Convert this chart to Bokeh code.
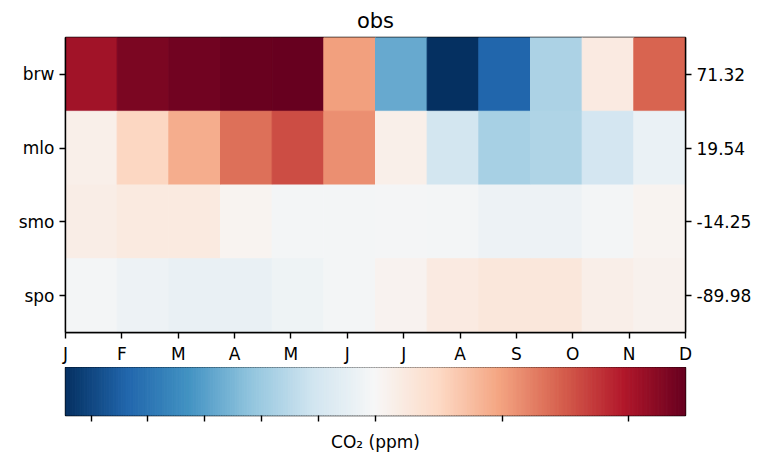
import numpy as np
from bokeh.plotting import figure
from bokeh.layouts import column
from bokeh.models import Range1d, FixedTicker, LinearAxis, CustomJSTickFormatter, ColumnDataSource
from bokeh.embed import file_html
from bokeh.resources import INLINE

# ---------------- data ----------------
stations = ["brw", "mlo", "smo", "spo"]
latitudes = [71.32, 19.54, -14.25, -89.98]
months = [1, 2, 3, 4, 5, 6, 7, 8, 9, 10, 11, 12]
month_labels = ["J", "F", "M", "A", "M", "J", "J", "A", "S", "O", "N", "D"]

brw = [4.14, 4.64, 4.77, 4.87, 4.95, 2.03, -5.56, -10.9, -8.7, -3.47, 0.45, 2.89]
mlo = [0.29, 1.05, 1.81, 2.71, 3.2, 2.27, 0.29, -2.07, -3.63, -3.36, -2.0, -0.74]
smo = [0.34, 0.47, 0.47, 0.15, -0.24, -0.24, -0.2, -0.24, -0.57, -0.57, -0.24, 0.15]
spo = [-0.24, -0.57, -0.8, -0.8, -0.52, -0.24, 0.17, 0.45, 0.57, 0.57, 0.3, 0.2]
values = [brw, mlo, smo, spo]

vmin, vcenter, vmax = -10.9, 0.0, 4.9
cbar_ticks = [-10, -8, -6, -4, -2, 0, 2, 4]

RDBU_R = ["#053061", "#2166ac", "#4393c3", "#92c5de", "#d1e5f0", "#f7f7f7",
          "#fddbc7", "#f4a582", "#d6604d", "#b2182b", "#67001f"]
FONT = "DejaVu Sans"
TICK_FS = "17px"


def hex2rgb(h):
    return [int(h[i:i + 2], 16) for i in (1, 3, 5)]


ANCH = np.array([hex2rgb(c) for c in RDBU_R], dtype=float)


def cmap(f):
    f = min(max(f, 0.0), 1.0)
    pos = f * (len(ANCH) - 1)
    i = min(int(pos), len(ANCH) - 2)
    t = pos - i
    rgb = ANCH[i] * (1 - t) + ANCH[i + 1] * t
    return "#%02x%02x%02x" % tuple(int(round(c)) for c in rgb)


def norm(v):
    if v < vcenter:
        f = 0.5 * (1 - (v - vcenter) / (vmin - vcenter))
    else:
        f = 0.5 + 0.5 * (v - vcenter) / (vmax - vcenter)
    return min(max(f, 0.0), 1.0)


# ---------------- heatmap ----------------
n = len(months)
span = months[-1] - months[0]
left, right, bottom, top, colors = [], [], [], [], []
for r, row in enumerate(values):
    for i, v in enumerate(row):
        left.append(months[0] + i * span / n)
        right.append(months[0] + (i + 1) * span / n)
        bottom.append(len(stations) - 1 - r)
        top.append(len(stations) - r)
        colors.append(cmap(norm(v)))
src = ColumnDataSource(dict(left=left, right=right, bottom=bottom, top=top, color=colors))

p = figure(output_backend="svg", toolbar_location=None,
           x_range=Range1d(months[0], months[-1]), y_range=Range1d(0, len(stations)),
           frame_width=620, frame_height=295,
           min_border_left=65, min_border_right=74, min_border_top=37, min_border_bottom=35)
p.quad(left="left", right="right", bottom="bottom", top="top", source=src,
       fill_color="color", line_color="color", line_width=1)

p.title.text = "obs"
p.title.align = "center"
p.title.text_font = FONT
p.title.text_font_size = "21px"
p.title.text_font_style = "normal"
p.title.text_color = "black"
p.title.standoff = 10

p.xgrid.visible = False
p.ygrid.visible = False
p.outline_line_color = "black"
p.outline_line_width = 1.4
p.background_fill_color = "white"

row_ticks = [len(stations) - 0.5 - k for k in range(len(stations))]


def style_axis(ax):
    ax.axis_line_color = "black"
    ax.axis_line_width = 1.4
    ax.major_tick_line_color = "black"
    ax.major_tick_line_width = 1.4
    ax.major_tick_out = 6
    ax.major_tick_in = 0
    ax.minor_tick_line_color = None
    ax.major_label_text_font = FONT
    ax.major_label_text_font_size = TICK_FS
    ax.major_label_text_color = "black"


xa = p.xaxis[0]
xa.ticker = FixedTicker(ticks=months)
xa.major_label_overrides = {m: l for m, l in zip(months, month_labels)}
xa.major_label_standoff = 5
style_axis(xa)

ya = p.yaxis[0]
ya.ticker = FixedTicker(ticks=row_ticks)
ya.major_label_overrides = {t: s for t, s in zip(row_ticks, stations)}
ya.major_label_standoff = 5
style_axis(ya)

ra = LinearAxis(ticker=FixedTicker(ticks=row_ticks))
ra.major_label_overrides = {t: "%.2f" % la for t, la in zip(row_ticks, latitudes)}
ra.major_label_standoff = 5
style_axis(ra)
p.add_layout(ra, "right")

# ---------------- colorbar ----------------
ncb = 256
fr = np.linspace(0, 1, ncb + 1)
cb_src = ColumnDataSource(dict(left=fr[:-1], right=fr[1:],
                               color=[cmap((a + b) / 2) for a, b in zip(fr[:-1], fr[1:])]))
cb = figure(output_backend="svg", toolbar_location=None,
            x_range=Range1d(0, 1), y_range=Range1d(0, 1),
            frame_width=620, frame_height=48,
            min_border_left=65, min_border_right=74, min_border_top=0, min_border_bottom=36)
cb.quad(left="left", right="right", bottom=0, top=1, source=cb_src,
        fill_color="color", line_color="color", line_width=1)
cb.xgrid.visible = False
cb.ygrid.visible = False
cb.yaxis.visible = False
cb.outline_line_color = "black"
cb.outline_line_width = 1.4
cba = cb.xaxis[0]
cba.ticker = FixedTicker(ticks=[norm(t) for t in cbar_ticks])
cba.formatter = CustomJSTickFormatter(code="return ''")
style_axis(cba)
cba.axis_line_color = None
cba.axis_label = "CO\u2082 (ppm)"
cba.axis_label_text_font = FONT
cba.axis_label_text_font_size = TICK_FS
cba.axis_label_text_font_style = "normal"
cba.axis_label_text_color = "black"
cba.axis_label_standoff = 10

layout = column(p, cb, spacing=0)
open("out.html", "w").write(file_html(layout, INLINE))
